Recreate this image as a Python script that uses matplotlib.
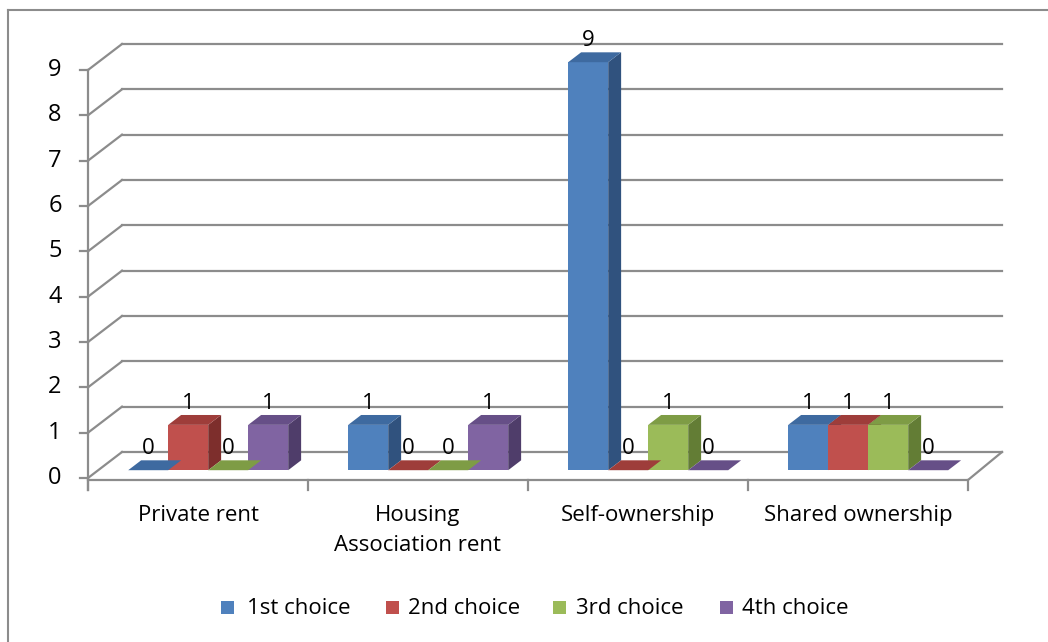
import matplotlib
matplotlib.use("Agg")
import matplotlib.pyplot as plt
from matplotlib.patches import Polygon, Rectangle
import numpy as np

categories = ["Private rent", "Housing\nAssociation rent", "Self-ownership", "Shared ownership"]
series_names = ["1st choice", "2nd choice", "3rd choice", "4th choice"]
first_choice = [0, 1, 9, 1]
second_choice = [1, 0, 0, 1]
third_choice = [0, 0, 1, 1]
fourth_choice = [1, 1, 0, 0]
y_ticks = list(range(0, 10))

series = [first_choice, second_choice, third_choice, fourth_choice]
front_colors = ["#4F81BD", "#C0504D", "#9BBB59", "#8064A2"]
top_colors = ["#3E6AA0", "#9E3D3A", "#7E9C45", "#664F87"]
side_colors = ["#30527E", "#7D2E2C", "#637D35", "#4F3D6A"]

W, H = 1048, 642
fig = plt.figure(figsize=(W / 100, H / 100), dpi=100)
fig.patch.set_facecolor("white")

# pixel geometry of the front plane
px_left, px_right = 88, 968
px_y0, px_y9 = 478, 70
ax = fig.add_axes([px_left / W, 1 - px_y0 / H, (px_right - px_left) / W, (px_y0 - px_y9) / H])
ax.set_xlim(0, 4)
ax.set_ylim(0, 9)
ax.axis("off")

upx = 4 / (px_right - px_left)
upy = 9 / (px_y0 - px_y9)
DX = 34 * upx   # full depth offset x
DY = 26 * upy   # full depth offset y
d_front, d_back = 0.30, 0.68

grid_c = "#8C8C8C"
lw = 1.6
fs = 16
font = "Open Sans"

# back wall gridlines and left wall diagonals
for v in y_ticks:
    ax.plot([DX, 4 + DX], [v + DY, v + DY], color=grid_c, lw=lw, clip_on=False, zorder=1)
    ax.plot([0, DX], [v, v + DY], color=grid_c, lw=lw, clip_on=False, zorder=1)
# floor
ax.plot([0, 4, 4 + DX], [-2 * upy, -2 * upy, DY], color=grid_c, lw=lw, clip_on=False, zorder=1)
# front value axis
ax.plot([0, 0], [-12 * upy, 9], color=grid_c, lw=lw, clip_on=False, zorder=2)
for v in y_ticks:
    ax.plot([-8 * upx, 0], [v, v], color=grid_c, lw=lw, clip_on=False, zorder=2)
    ax.text(-33 * upx, v, str(v), ha="center", va="center", fontsize=fs + 1, family=font, clip_on=False)
# category ticks
for i in range(5):
    ax.plot([i, i], [-2 * upy, -12 * upy], color=grid_c, lw=lw, clip_on=False, zorder=2)

# bars
n = len(series)
bw = 1 / (n + 1.5)
gap = (1 - n * bw) / 2
fx, fy = d_front * DX, d_front * DY
bx, by = d_back * DX, d_back * DY
for i in range(len(categories)):
    for j, vals in enumerate(series):
        v = vals[i]
        x0 = i + gap + j * bw + fx
        y0 = fy
        side = Polygon([(x0 + bw, y0), (x0 + bw + (bx - fx), y0 + (by - fy)),
                        (x0 + bw + (bx - fx), y0 + v + (by - fy)), (x0 + bw, y0 + v)],
                       closed=True, facecolor=side_colors[j], edgecolor="none", zorder=3, clip_on=False)
        ax.add_patch(side)
        ax.bar(x0, v, width=bw, bottom=y0, align="edge", color=front_colors[j],
               edgecolor="none", zorder=4, clip_on=False)
        top = Polygon([(x0, y0 + v), (x0 + bw, y0 + v),
                       (x0 + bw + (bx - fx), y0 + v + (by - fy)), (x0 + (bx - fx), y0 + v + (by - fy))],
                      closed=True, facecolor=top_colors[j], edgecolor="none", zorder=5, clip_on=False)
        ax.add_patch(top)
        ax.annotate(str(v), (x0 + bw / 2, y0 + v + (by - fy)), xytext=(0, 1), textcoords="offset points",
                    ha="center", va="bottom", fontsize=fs, family=font, zorder=6, annotation_clip=False)

# category labels
for i, c in enumerate(categories):
    ax.text(i + 0.5, -27 * upy, c, ha="center", va="top", fontsize=fs, family=font,
            linespacing=1.55, clip_on=False)

# legend
leg_y = 608
leg_items = [(221, 247), (386, 408), (553, 576), (720, 742)]
for (sx, tx), name, col in zip(leg_items, series_names, front_colors):
    fig.patches.append(Rectangle((sx / W, 1 - (leg_y + 6) / H), 13 / W, 13 / H,
                                 transform=fig.transFigure, facecolor=col, edgecolor="none"))
    fig.text(tx / W, 1 - leg_y / H, name, ha="left", va="center", fontsize=fs, family=font)

# chart border
fig.add_artist(plt.Line2D([8 / W, 8 / W], [0, 1 - 10 / H], color="#8C8C8C", lw=1.5))
fig.add_artist(plt.Line2D([8 / W, 1], [1 - 10 / H, 1 - 10 / H], color="#8C8C8C", lw=1.5))

fig.savefig("out.png", dpi=100, facecolor="white")
